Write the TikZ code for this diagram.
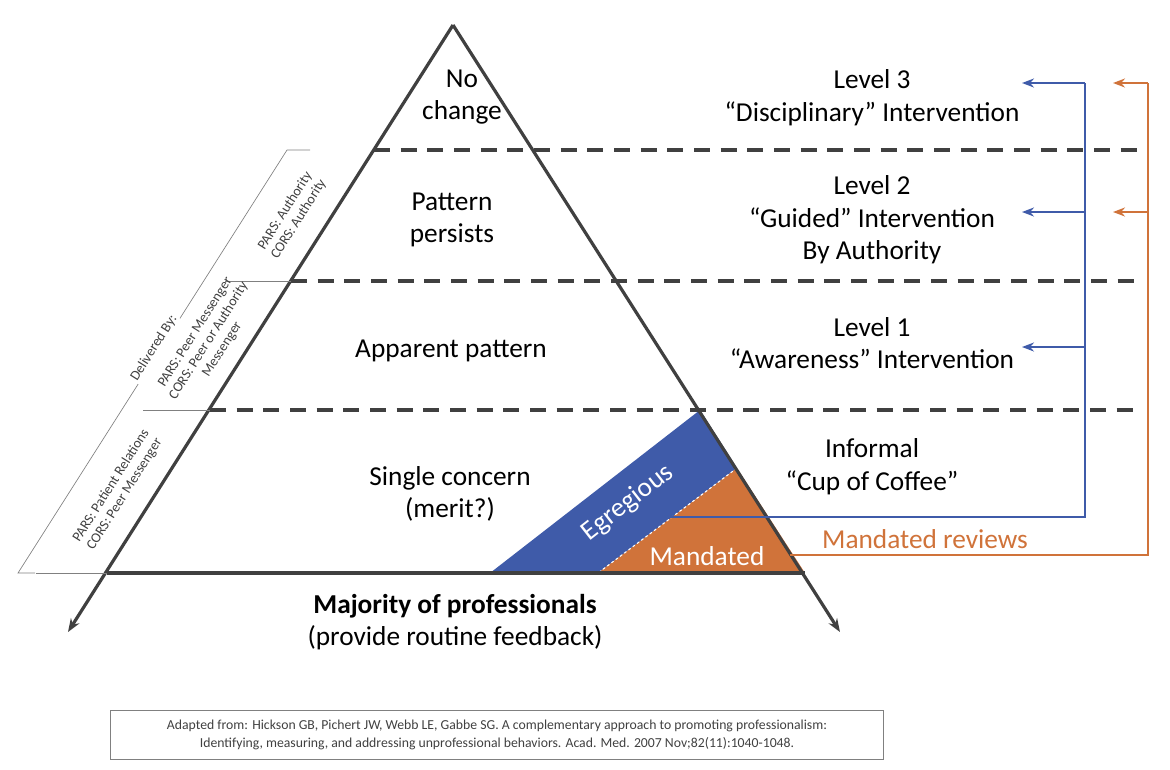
\documentclass[tikz,border=0pt]{standalone}
\usepackage{fontspec}
\setmainfont{Carlito}
\usetikzlibrary{arrows.meta}
\definecolor{edge}{HTML}{404040}
\definecolor{pblue}{HTML}{3F5BA9}
\definecolor{porange}{HTML}{D0733A}
\begin{document}
\begin{tikzpicture}[x=0.75pt, y=-0.75pt,
  side/.style={draw=edge, line width=2.4pt, -{Stealth[length=10pt]}},
  level/.style={draw=edge, line width=2.6pt, dash pattern=on 12pt off 8pt},
  thin/.style={draw=gray, line width=0.5pt},
  lbl/.style={font=\fontsize{20.5}{24.5}\selectfont, align=center},
  side lbl/.style={font=\fontsize{10.5}{12}\selectfont, align=center, text=edge, rotate=57.7},
  blue arrow/.style={draw=pblue, line width=1.8pt, -{Stealth[length=9pt]}},
  orange arrow/.style={draw=porange, line width=1.8pt, -{Stealth[length=9pt]}}]
\useasboundingbox (0,0) rectangle (1170,769);
% coloured corner
\fill[pblue] (700,410) -- (490,573) -- (598,573) -- (737,468) -- cycle;
\fill[porange] (737,468) -- (598,573) -- (805,573) -- cycle;
\draw[white, line width=0.8pt, dash pattern=on 2pt off 2pt] (737,468) -- (598,573);
% pyramid
\coordinate (apex) at (453,25);
\coordinate (lfoot) at (68,632);
\coordinate (rfoot) at (840,632);
\draw[side] (apex) -- (lfoot);
\draw[side] (apex) -- (rfoot);
\draw[edge, line width=2.4pt] (107,573) -- (805,573);
\draw[level] (374,150) -- (1140,150);
\draw[level] (291,281) -- (1140,281);
\draw[level] (210,410) -- (1140,410);
% delivered by bracket
\draw[thin] (35,573) -- (18,573) -- (287,150) -- (310,150);
\draw[thin] (225,281) -- (291,281);
\draw[thin] (143,410) -- (210,410);
\draw[thin] (36,573) -- (107,573);
\node[side lbl, fill=white, inner sep=1pt] (dlv) at (154,348) {Delivered By:};
\node[side lbl] (s3) at (292,215) {PARS: Authority\\CORS: Authority};
\node[side lbl] (s2) at (209,341) {PARS: Peer Messenger\\CORS: Peer or Authority\\Messenger};
\node[side lbl] (s1) at (118,490) {PARS: Patient Relations\\CORS: Peer Messenger};
% pyramid texts
\node[lbl] (nochg) at (462,97) {No\\change};
\node[lbl] (persist) at (452,220) {Pattern\\persists};
\node[lbl] (appar) at (451,351) {Apparent pattern};
\node[lbl] (single) at (450,494) {Single concern\\(merit?)};
\node[lbl, text=white, rotate=38] (egr) at (628,503) {Egregious};
\node[lbl, text=white] (mand) at (707,556) {Mandated};
\node[lbl] (major) at (455,622) {\textbf{Majority of professionals}\\(provide routine feedback)};
% right texts
\node[lbl] (lv3) at (872,98) {Level 3\\“Disciplinary” Intervention};
\node[lbl] (lv2) at (872,220) {Level 2\\“Guided” Intervention\\By Authority};
\node[lbl] (lv1) at (872,343) {Level 1\\“Awareness” Intervention};
\node[lbl] (inf) at (872,467) {Informal\\“Cup of Coffee”};
\node[lbl, text=porange] (mrev) at (925,539) {Mandated reviews};
% escalation arrows
\coordinate (b0) at (668,517);
\coordinate (b1) at (1085,517);
\coordinate (b2) at (1085,83);
\draw[pblue, line width=1.8pt] (b0) -- (b1) -- (b2);
\foreach \y in {83,212,347} \draw[blue arrow] (1085,\y) -- (1022,\y);
\coordinate (o0) at (790,555);
\coordinate (o1) at (1148,555);
\coordinate (o2) at (1148,83);
\draw[porange, line width=1.8pt] (o0) -- (o1) -- (o2);
\foreach \y in {83,212} \draw[orange arrow] (1148,\y) -- (1113,\y);
% citation
\node[draw=gray, line width=0.5pt, minimum width=580pt, minimum height=37pt, font=\fontsize{10.3}{14}\selectfont, align=center, text=edge] (cite) at (497,735)
  {Adapted from: Hickson GB, Pichert JW, Webb LE, Gabbe SG. A complementary approach to promoting professionalism:\\Identifying, measuring, and addressing unprofessional behaviors. Acad. Med. 2007 Nov;82(11):1040-1048.};
\end{tikzpicture}
\end{document}
